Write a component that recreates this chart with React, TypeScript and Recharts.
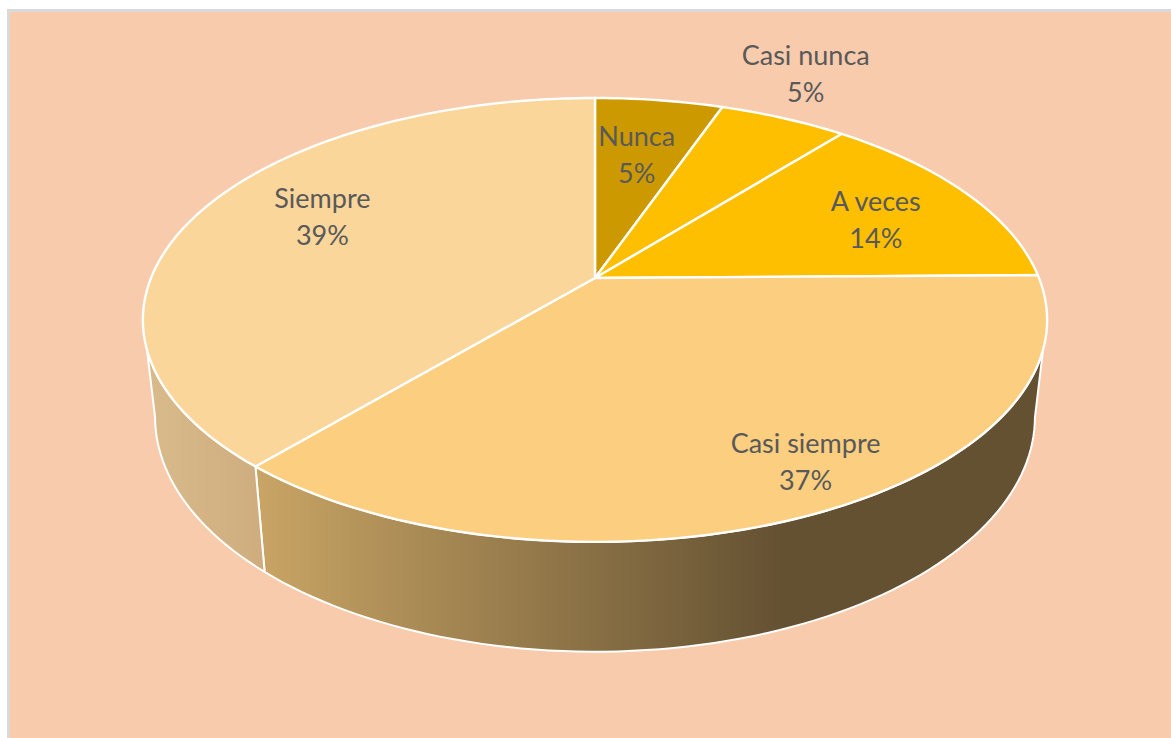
import { Pie, PieChart } from "recharts";

const categories = ["Nunca", "Casi nunca", "A veces", "Casi siempre", "Siempre"];
const shares = [5.49, 5.49, 13.8, 36.6, 38.62];

const topColors = ["#CC9900", "#FDBF00", "#FDBF00", "#FBCE80", "#FBD69B"];
const wallFrom = ["#CC9900", "#FDBF00", "#FDBF00", "#C9A565", "#D9BB8B"];
const wallTo = ["#CC9900", "#FDBF00", "#FDBF00", "#645132", "#CEAC7D"];
const wallStop = ["100%", "100%", "100%", "67%", "100%"];

// how far from the apex each label sits, and a small turn off the slice middle
const labelReach = [0.653, 1.3, 0.724, 0.844, 0.716];
const labelTurn = [-0.6, -3.2, 2.6, -4, 4.5];

const data = categories.map((name, i) => ({ name, value: shares[i] }));

const TEXT = "#595959";
const TILT = -0.189;

// perspective disc: apex is not the middle of the ellipse, so go through a projection
const project = (
  cx: number,
  cy: number,
  xr: number,
  yr: number,
  deg: number,
  r = 1,
) => {
  const rad = (deg * Math.PI) / 180;
  const u = r * Math.sin(rad);
  const v = -r * Math.cos(rad);
  const w = 1 + TILT * v;
  return [cx + (xr * u) / w, cy + (yr * v) / w];
};

const arc = (
  cx: number,
  cy: number,
  xr: number,
  yr: number,
  from: number,
  to: number,
) => {
  const n = Math.max(2, Math.ceil(Math.abs(to - from) / 1.5));
  const pts: string[] = [];
  for (let i = 0; i <= n; i++) {
    const [x, y] = project(cx, cy, xr, yr, from + ((to - from) * i) / n);
    pts.push(`${x.toFixed(2)} ${y.toFixed(2)}`);
  }
  return pts;
};

const TopSlice = ({ cx, cy, outerRadius, startAngle, endAngle, index }: any) => {
  const xr = outerRadius;
  const yr = outerRadius * 0.482;
  const pts = arc(cx, cy, xr, yr, 90 - startAngle, 90 - endAngle);
  return (
    <path
      d={`M${cx} ${cy} L${pts.join(" L")} Z`}
      fill={topColors[index]}
      stroke="#fff"
      strokeWidth={2.4}
      strokeLinejoin="round"
    />
  );
};

const WallSlice = ({ cx, cy, outerRadius, startAngle, endAngle, index }: any) => {
  const from = 90 - startAngle;
  const to = 90 - endAngle;
  // only the front of the disc has a visible wall
  if (to <= 101 || from >= 259) return null;
  const xr = outerRadius;
  const yr = outerRadius * 0.482;
  const xb = outerRadius * 0.973;
  const yb = outerRadius * 0.51;
  const cyb = cy + 94.5;
  const top = arc(cx, cy, xr, yr, Math.max(from, 108.4), Math.min(to, 251.6));
  const bottom = arc(cx, cyb, xb, yb, Math.min(to, 259), Math.max(from, 101));
  return (
    <path
      d={`M${top.join(" L")} L${bottom.join(" L")} Z`}
      fill={`url(#wall${index})`}
      stroke="#fff"
      strokeWidth={2}
      strokeLinejoin="round"
    />
  );
};

const SliceLabel = ({ cx, cy, outerRadius, midAngle, index, name, percent }: any) => {
  const [x, y] = project(
    cx,
    cy,
    outerRadius,
    outerRadius * 0.482,
    90 - midAngle + labelTurn[index],
    labelReach[index],
  );
  return (
    <text
      textAnchor="middle"
      fill={TEXT}
      fontFamily="Lato, sans-serif"
      fontSize={27}
    >
      <tspan x={x} y={y - 9}>
        {name}
      </tspan>
      <tspan x={x} y={y + 28}>
        {`${Math.round(percent * 100)}%`}
      </tspan>
    </text>
  );
};

export default function App() {
  return (
    <div
      style={{
        position: "absolute",
        left: 0,
        top: 0,
        width: 1171,
        height: 738,
        overflow: "hidden",
        background: "#fff",
      }}
    >
      <div
        style={{
          position: "absolute",
          left: 7,
          top: 9,
          right: 0,
          bottom: 0,
          background: "#F7CBAC",
          borderLeft: "3px solid #D9D9D9",
          borderTop: "3px solid #D9D9D9",
        }}
      />
      <PieChart
        width={1171}
        height={738}
        margin={{ top: 0, right: 0, bottom: 0, left: 0 }}
        style={{ position: "absolute", left: 0, top: 0 }}
      >
        <defs>
          {categories.map((name, i) => (
            <linearGradient key={name} id={`wall${i}`} x1="0" y1="0" x2="1" y2="0">
              <stop offset="0%" stopColor={wallFrom[i]} />
              <stop offset={wallStop[i]} stopColor={wallTo[i]} />
            </linearGradient>
          ))}
        </defs>
        <Pie
          data={data}
          dataKey="value"
          nameKey="name"
          cx={595}
          cy={278}
          outerRadius={444}
          startAngle={90}
          endAngle={-270}
          shape={WallSlice}
          isAnimationActive={false}
        />
        <Pie
          data={data}
          dataKey="value"
          nameKey="name"
          cx={595}
          cy={278}
          outerRadius={444}
          startAngle={90}
          endAngle={-270}
          shape={TopSlice}
          label={SliceLabel}
          labelLine={false}
          isAnimationActive={false}
        />
      </PieChart>
    </div>
  );
}
